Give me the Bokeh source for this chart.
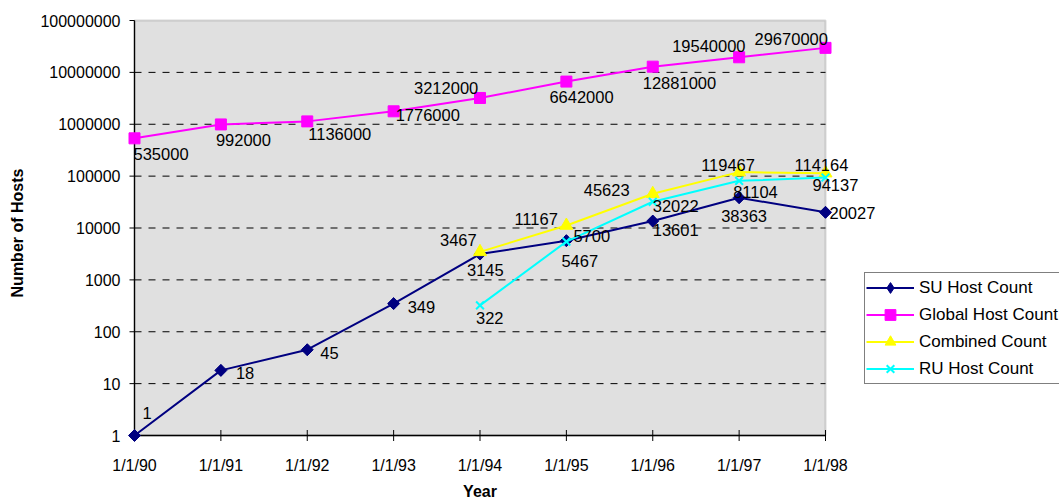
import math
from bokeh.plotting import figure
from bokeh.models import Legend, LegendItem, Range1d, BoxAnnotation
from bokeh.core.properties import value
from bokeh.embed import file_html
from bokeh.resources import INLINE

# ---------------- data ----------------
years = ["1/1/90", "1/1/91", "1/1/92", "1/1/93", "1/1/94",
         "1/1/95", "1/1/96", "1/1/97", "1/1/98"]
su_counts = [1, 18, 45, 349, 3145, 5700, 13601, 38363, 20027]
global_counts = [535000, 992000, 1136000, 1776000, 3212000,
                 6642000, 12881000, 19540000, 29670000]
combined_years = ["1/1/94", "1/1/95", "1/1/96", "1/1/97", "1/1/98"]
combined_counts = [3467, 11167, 45623, 119467, 114164]
ru_years = ["1/1/94", "1/1/95", "1/1/96", "1/1/97", "1/1/98"]
ru_counts = [322, 5467, 32022, 81104, 94137]
y_tick_values = [1, 10, 100, 1000, 10000, 100000, 1000000, 10000000, 100000000]
y_tick_labels = ["1", "10", "100", "1000", "10000", "100000", "1000000",
                 "10000000", "100000000"]
x_title = "Year"
y_title = "Number of Hosts"

# ---------------- label placement (pixel offsets, down positive) -------------
su_dx = [8, 15, 13, 14, -13, 7, 0, -18, 4]
su_dy = [-23, 3, 3, 3, 16, -5, 9, 18, 1]
global_dx = [-1, -5, 1, 2, -66, -17, -10, -67, -71]
global_dy = [16, 16, 13, 4, -10, 15, 16, -11, -9]
combined_dx = [-40, -52, -69, -38, -31]
combined_dy = [-12, -7, -4, -7, -8]
ru_dx = [-4, -5, 0, -6, -13]
ru_dy = [13, 19, 4, 11, 8]

# ---------------- layout ----------------
W, H = 1059, 502
PL, PR, PT, PB = 134, 825, 20, 435          # plot-area edges in page px
n = len(years)
px_x = (PR - PL) / (n - 1)
lo, hi = math.log10(y_tick_values[0]), math.log10(y_tick_values[-1])
px_dec = (PB - PT) / (hi - lo)

pos = {c: i for i, c in enumerate(years)}
xs = [pos[c] for c in years]
cx = [pos[c] for c in combined_years]
rx = [pos[c] for c in ru_years]

# the frame covers the whole figure; everything is drawn inside it
x_range = Range1d(xs[0] - PL / px_x, xs[-1] + (W - PR) / px_x)
y_range = Range1d(10 ** (lo - (H - PB) / px_dec), 10 ** (hi + PT / px_dec))

p = figure(width=W, height=H, x_range=x_range, y_range=y_range,
           y_axis_type="log", output_backend="svg", toolbar_location=None,
           min_border=0)
p.title.visible = False
p.background_fill_color = "white"
p.border_fill_color = "white"
p.outline_line_color = None
p.xgrid.visible = False
p.ygrid.visible = False
p.xaxis.visible = False
p.yaxis.visible = False

FONT = "Liberation Sans"

# plot area background + grey border
box = BoxAnnotation(left=xs[0], right=xs[-1], bottom=y_tick_values[0],
                    top=y_tick_values[-1], fill_color="#E0E0E0", fill_alpha=1,
                    line_color="#808080", line_width=2, level="underlay")
p.add_layout(box)

# dashed gridlines
gy = y_tick_values[1:-1]
p.segment(x0=[xs[0]] * len(gy), x1=[xs[-1]] * len(gy), y0=gy, y1=gy,
          line_color="#000000", line_width=1, line_dash="7 7")

# axis lines and ticks
p.segment(x0=[xs[0], xs[0]], x1=[xs[0], xs[-1]],
          y0=[y_tick_values[0], y_tick_values[0]],
          y1=[y_tick_values[-1], y_tick_values[0]],
          line_color="black", line_width=1.3)
p.ray(x=[xs[0]] * len(y_tick_values), y=y_tick_values, length=5,
      length_units="screen", angle=math.pi, line_color="black", line_width=1)
p.scatter(x=xs, y=[y_tick_values[0]] * n, marker="dash", angle=math.pi / 2,
          size=11, line_color="black", line_width=1)

# tick labels and axis titles
p.text(x=xs, y=[y_tick_values[0]] * n, text=years, y_offset=30,
       text_font=value(FONT), text_font_size="16px", text_color="black",
       text_align="center", text_baseline="middle")
p.text(x=[xs[0]] * len(y_tick_values), y=y_tick_values, text=y_tick_labels,
       x_offset=-14, text_font=value(FONT), text_font_size="16px",
       text_color="black", text_align="right", text_baseline="middle")
p.text(x=[(xs[0] + xs[-1]) / 2], y=[y_tick_values[0]], text=[x_title],
       y_offset=56, text_font=value(FONT), text_font_size="16px",
       text_font_style="bold", text_color="black",
       text_align="center", text_baseline="middle")
p.text(x=[xs[0]], y=[10 ** ((lo + hi) / 2)], text=[y_title],
       x_offset=-117, y_offset=5, angle=math.pi / 2,
       text_font=value(FONT), text_font_size="16px",
       text_font_style="bold", text_color="black",
       text_align="center", text_baseline="middle")

NAVY, MAG, YEL, CYAN = "#000080", "#FF00FF", "#FFFF00", "#00FFFF"

su_l = p.line(xs, su_counts, line_color=NAVY, line_width=2)
# plain diamonds (used by the legend), hidden under the rotated squares
su_leg = p.scatter(xs, su_counts, marker="diamond", size=11,
                   fill_color=NAVY, line_color=NAVY)
su_m = p.scatter(xs, su_counts, marker="square", angle=math.pi / 4, size=8.5,
                 fill_color=NAVY, line_color=NAVY)
gl_l = p.line(xs, global_counts, line_color=MAG, line_width=2)
gl_m = p.scatter(xs, global_counts, marker="square", size=11,
                 fill_color=MAG, line_color=MAG)
co_l = p.line(cx, combined_counts, line_color=YEL, line_width=2)
co_m = p.scatter(cx, combined_counts, marker="triangle", size=13,
                 fill_color=YEL, line_color=YEL)
ru_l = p.line(rx, ru_counts, line_color=CYAN, line_width=2)
ru_m = p.scatter(rx, ru_counts, marker="x", size=11, line_color=CYAN,
                 line_width=2)

def labels(x, y, dx, dy):
    p.text(x=x, y=y, text=[str(v) for v in y], x_offset=dx, y_offset=dy,
           text_font=value(FONT), text_font_size="16.5px", text_color="black",
           text_align="left", text_baseline="middle")

labels(xs, su_counts, su_dx, su_dy)
labels(xs, global_counts, global_dx, global_dy)
labels(cx, combined_counts, combined_dx, combined_dy)
labels(rx, ru_counts, ru_dx, ru_dy)

legend = Legend(items=[
    LegendItem(label="SU Host Count", renderers=[su_l, su_leg]),
    LegendItem(label="Global Host Count", renderers=[gl_l, gl_m]),
    LegendItem(label="Combined Count", renderers=[co_l, co_m]),
    LegendItem(label="RU Host Count", renderers=[ru_l, ru_m]),
], location=(864, H - 384))
legend.label_text_font = FONT
legend.label_text_font_size = "17px"
legend.label_text_color = "black"
legend.glyph_width = 48
legend.glyph_height = 27
legend.label_height = 27
legend.padding = 1
legend.spacing = 0
legend.margin = 0
legend.label_standoff = 5
legend.border_line_color = "black"
legend.border_line_width = 1
legend.background_fill_color = "white"
legend.background_fill_alpha = 1
p.add_layout(legend)

open("out.html", "w").write(file_html(p, INLINE))
